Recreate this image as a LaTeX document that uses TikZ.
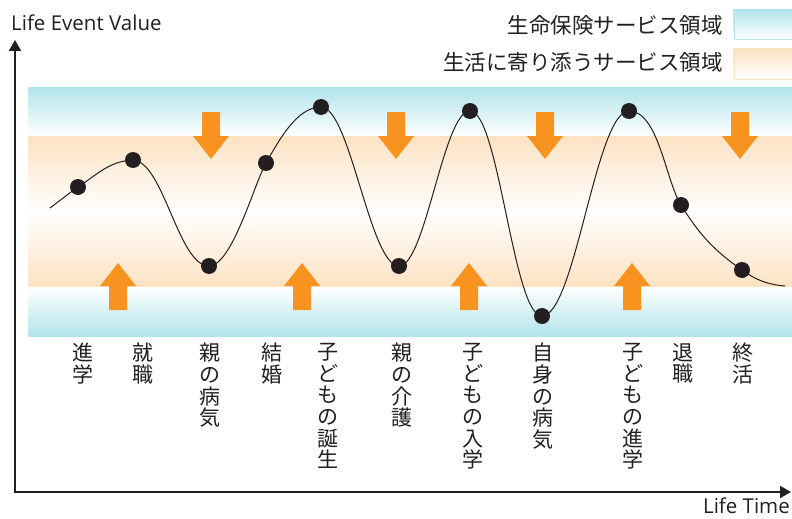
\documentclass[tikz,border=0pt]{standalone}
\usepackage{fontspec}
\setmainfont{Noto Sans CJK JP}
\newfontfamily\latinfont{Open Sans}
\usetikzlibrary{arrows.meta}
\definecolor{ink}{HTML}{231F20}
\definecolor{lcyan}{HTML}{B0E4EA}
\definecolor{lorange}{HTML}{FDE2C2}
\definecolor{arrowor}{HTML}{F7931E}
\begin{document}
\begin{tikzpicture}[x=1pt,y=1pt,
  dot/.style={circle,fill=ink,inner sep=0pt,minimum size=16pt},
  vlabel/.style={anchor=north,inner sep=0pt,align=center,font=\fontsize{21}{21.7}\selectfont,text=ink},
  legtext/.style={anchor=east,inner sep=0pt,font=\fontsize{21.5}{24}\selectfont,text=ink},
  axistext/.style={inner sep=0pt,font=\latinfont\fontsize{20.5}{22}\selectfont,text=ink},
  legbox/.style={anchor=north west,inner sep=0pt,minimum width=58pt,minimum height=30pt},
  axisline/.style={draw=ink,line width=2pt,line join=miter,{Triangle[width=12pt,length=11pt]}-{Triangle[width=12pt,length=11pt]}},
  curveline/.style={draw=ink,line width=1pt}]
\useasboundingbox (0,0) rectangle (792,-519);

% bands
\shade[top color=lcyan,bottom color=white] (28,-87) rectangle (792,-136);
\shade[top color=lorange,bottom color=lorange,middle color=white] (28,-136) rectangle (792,-287);
\shade[top color=white,bottom color=lcyan] (28,-287) rectangle (792,-336);

% legend
\node[legtext] (leg1) at (723,-25) {生命保険サービス領域};
\node[legtext] (leg2) at (723,-62) {生活に寄り添うサービス領域};
\node[legbox,draw=lcyan,top color=lcyan,bottom color=white] (box1) at (733.5,-9.5) {};
\node[legbox,draw=lorange,top color=lorange,bottom color=white] (box2) at (733.5,-48.5) {};

% orange arrows
\foreach \cx in {211,396,545,740}
  \fill[arrowor] (\cx-9,-112) -- (\cx+9,-112) -- (\cx+9,-136) -- (\cx+18,-136)
     -- (\cx,-159) -- (\cx-18,-136) -- (\cx-9,-136) -- cycle;
\foreach \cx in {118,302,469,632}
  \fill[arrowor] (\cx-9,-310) -- (\cx+9,-310) -- (\cx+9,-286) -- (\cx+18,-286)
     -- (\cx,-263) -- (\cx-18,-286) -- (\cx-9,-286) -- cycle;

% axes
\coordinate (ytop) at (15,-40);
\coordinate (origin) at (15,-492);
\coordinate (xend) at (791,-492);
\draw[axisline] (ytop) -- (origin) -- (xend);
\node[axistext,anchor=base west] (ylab) at (11,-31) {Life Event Value};
\node[axistext,anchor=base east] (xlab) at (790,-513) {Life Time};

% curve points
\coordinate (s) at (50,-208);
\coordinate (p1) at (78,-187);
\coordinate (p2) at (133,-160);
\coordinate (p3) at (209,-266);
\coordinate (p4) at (266,-163);
\coordinate (p5) at (321,-107);
\coordinate (p6) at (399,-266);
\coordinate (p7) at (470,-111);
\coordinate (p8) at (542,-316);
\coordinate (p9) at (629,-111);
\coordinate (p10) at (681,-205);
\coordinate (p11) at (742,-270);
\coordinate (e) at (785,-286);

\draw[curveline] (s) to[out=37,in=215] (p1) to[out=33,in=183] (p2)
  to[out=-3,in=180,looseness=0.6] (p3) to[out=0,in=240,looseness=0.5] (p4)
  to[out=60,in=180,looseness=0.8] (p5)
  to[out=0,in=180,looseness=0.42] (p6) to[out=0,in=180,looseness=0.4] (p7)
  to[out=0,in=180,looseness=0.34] (p8) to[out=0,in=180,looseness=0.38] (p9)
  to[out=0,in=122,looseness=0.7] (p10) to[out=-58,in=145] (p11)
  to[out=-35,in=175] (e);

\foreach \p in {p1,p2,p3,p4,p5,p6,p7,p8,p9,p10,p11}
  \node[dot] (d\p) at (\p) {};

% labels
\node[vlabel] (l1) at (83,-343) {進\\学};
\node[vlabel] (l2) at (143,-343) {就\\職};
\node[vlabel] (l3) at (210,-343) {親\\の\\病\\気};
\node[vlabel] (l4) at (272,-343) {結\\婚};
\node[vlabel] (l5) at (328,-343) {子\\ど\\も\\の\\誕\\生};
\node[vlabel] (l6) at (402,-343) {親\\の\\介\\護};
\node[vlabel] (l7) at (473,-343) {子\\ど\\も\\の\\入\\学};
\node[vlabel] (l8) at (543,-343) {自\\身\\の\\病\\気};
\node[vlabel] (l9) at (633,-343) {子\\ど\\も\\の\\進\\学};
\node[vlabel] (l10) at (683,-343) {退\\職};
\node[vlabel] (l11) at (743,-343) {終\\活};
\end{tikzpicture}
\end{document}
